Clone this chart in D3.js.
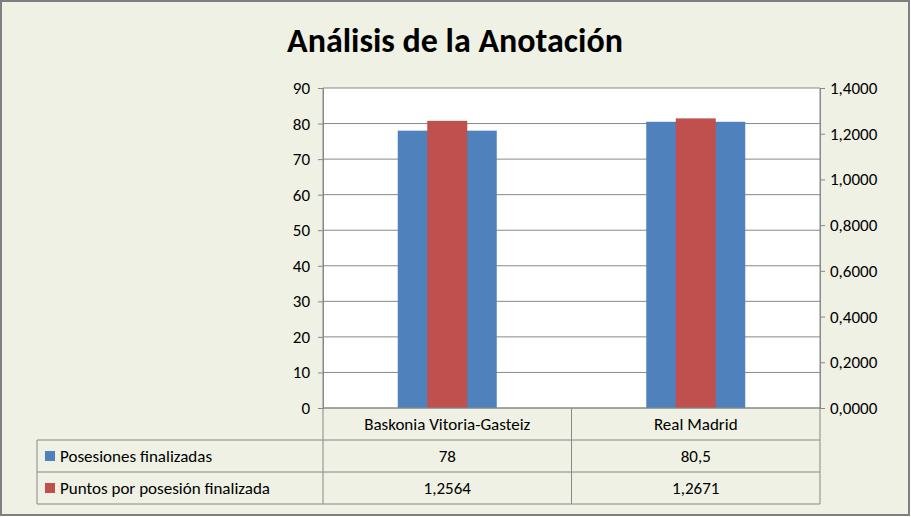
<!DOCTYPE html><html><head><meta charset="utf-8"><script src="https://cdn.jsdelivr.net/npm/d3@7"></script>
<style>body{margin:0;background:#fff}text{font-family:Carlito,"Open Sans",sans-serif}</style></head><body><svg id="c" width="911" height="517"></svg>
<script>
const categories=["Baskonia Vitoria-Gasteiz","Real Madrid"];
const posesiones=[78,80.5];
const puntos=[1.2564,1.2671];
const leftTicks=[0,10,20,30,40,50,60,70,80,90];
const rightTicks=[0,0.2,0.4,0.6,0.8,1.0,1.2,1.4];
const seriesNames=["Posesiones finalizadas","Puntos por posesión finalizada"];
const colors=["#4F81BD","#C0504D"];
const svg=d3.select("#c");
svg.append("rect").attr("x",1).attr("y",1).attr("width",908).attr("height",514).attr("fill","#EEF1E3").attr("stroke","#7f7f7f").attr("stroke-width",2);
svg.append("text").attr("x",455).attr("y",52).attr("text-anchor","middle").attr("font-size",34).attr("font-weight","bold").text("Análisis de la Anotación");
const L=323,R=820,T=88,B=408;
svg.append("rect").attr("x",L).attr("y",T).attr("width",R-L).attr("height",B-T).attr("fill","#fff");
const x=d3.scaleBand().domain(categories).range([L,R]);
const yl=d3.scaleLinear().domain([0,90]).range([B,T]);
const yr=d3.scaleLinear().domain([0,1.4]).range([B,T]);
leftTicks.forEach(t=>svg.append("line").attr("x1",L).attr("x2",R).attr("y1",yl(t)).attr("y2",yl(t)).attr("stroke","#888"));
const bw=99,rw=40;
svg.selectAll(".b").data(categories).join("rect").attr("x",d=>x(d)+x.bandwidth()/2-bw/2).attr("width",bw)
 .attr("y",(d,i)=>yl(posesiones[i])).attr("height",(d,i)=>B-yl(posesiones[i])).attr("fill",colors[0]);
svg.selectAll(".r").data(categories).join("rect").attr("x",d=>x(d)+x.bandwidth()/2-rw/2).attr("width",rw)
 .attr("y",(d,i)=>yr(puntos[i])).attr("height",(d,i)=>B-yr(puntos[i])).attr("fill",colors[1]);
const fmtR=d=>d3.format(".4f")(d).replace(".",",");
const gl=svg.append("g").attr("transform",`translate(${L},0)`).call(d3.axisLeft(yl).tickValues(leftTicks).tickSize(5));
const gr=svg.append("g").attr("transform",`translate(${R},0)`).call(d3.axisRight(yr).tickValues(rightTicks).tickSize(5).tickFormat(fmtR));
[gl,gr].forEach(g=>{g.selectAll("text").attr("font-size",17).attr("fill","#000").style("font-family","Carlito,'Open Sans',sans-serif");g.selectAll("line,path").attr("stroke","#888");});
gl.selectAll("text").attr("x",-13);gr.selectAll("text").attr("x",10);
// table
const TL=37,rows=[408,440,472,504];
const st="#888";
svg.append("line").attr("x1",L).attr("x2",L).attr("y1",T).attr("y2",504).attr("stroke",st);
svg.append("line").attr("x1",R).attr("x2",R).attr("y1",T).attr("y2",504).attr("stroke",st);
svg.append("line").attr("x1",x(categories[1])).attr("x2",x(categories[1])).attr("y1",B).attr("y2",504).attr("stroke",st);
svg.append("line").attr("x1",TL).attr("x2",TL).attr("y1",440).attr("y2",504).attr("stroke",st);
svg.append("line").attr("x1",L).attr("x2",R).attr("y1",408).attr("y2",408).attr("stroke",st);
[440,472,504].forEach(y=>svg.append("line").attr("x1",TL).attr("x2",R).attr("y1",y).attr("y2",y).attr("stroke",st));
categories.forEach((c,i)=>{
 const cx=x(c)+x.bandwidth()/2;
 svg.append("text").attr("x",cx).attr("y",430).attr("text-anchor","middle").attr("font-size",17).text(c);
 svg.append("text").attr("x",cx).attr("y",462).attr("text-anchor","middle").attr("font-size",17).text(String(posesiones[i]).replace(".",","));
 svg.append("text").attr("x",cx).attr("y",494).attr("text-anchor","middle").attr("font-size",17).text(fmtR(puntos[i]));
});
seriesNames.forEach((n,i)=>{
 const y=456+i*32;
 svg.append("rect").attr("x",45).attr("y",y-5).attr("width",10).attr("height",10).attr("fill",colors[i]);
 svg.append("text").attr("x",60).attr("y",y+6).attr("font-size",17).text(n);
});
</script></body></html>
